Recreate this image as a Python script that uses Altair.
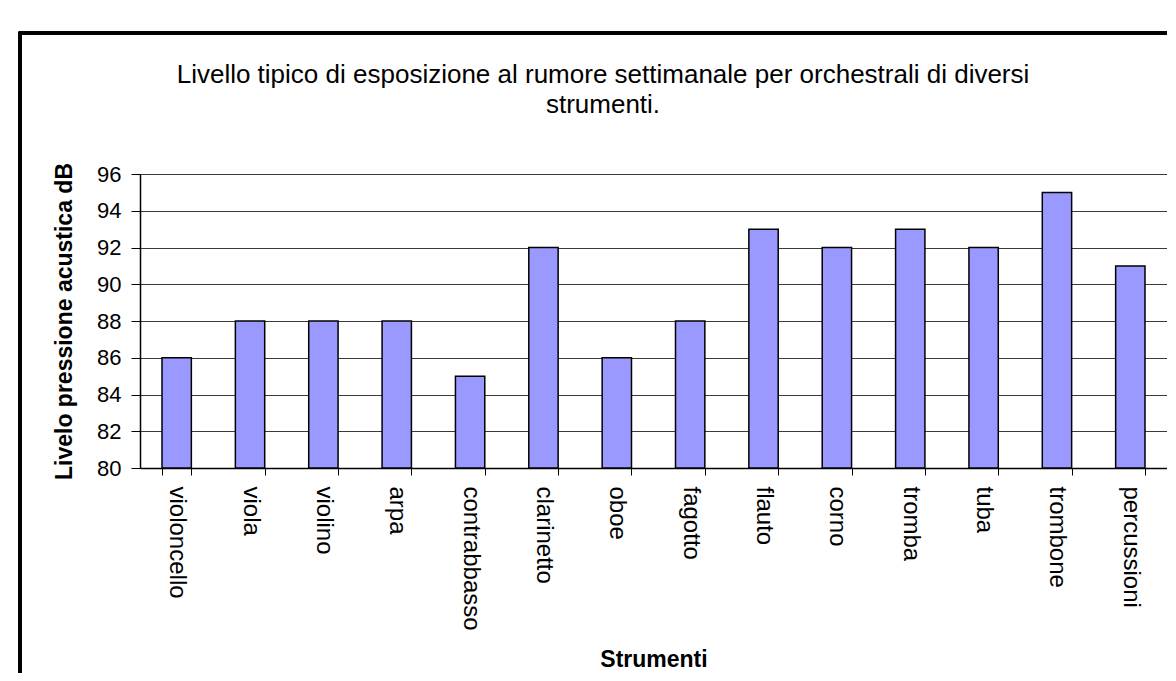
import altair as alt
import pandas as pd

strumenti = ["violoncello", "viola", "violino", "arpa", "contrabbasso", "clarinetto",
             "oboe", "fagotto", "flauto", "corno", "tromba", "tuba", "trombone", "percussioni"]
livello = [86, 88, 88, 88, 85, 92, 86, 88, 93, 92, 93, 92, 95, 91]
y_ticks = [80, 82, 84, 86, 88, 90, 92, 94, 96]
title_lines = ["Livello tipico di esposizione al rumore settimanale per orchestrali di diversi",
               "strumenti."]

df = pd.DataFrame({"strumento": strumenti, "livello": livello})

FONT = "Liberation Sans"

x_enc = alt.X(
    "strumento:N",
    sort=strumenti,
    scale=alt.Scale(paddingInner=0.6, paddingOuter=0.3),
    axis=alt.Axis(
        title="Strumenti",
        labelAngle=90,
        labelFontSize=24,
        labelPadding=11,
        labelColor="black",
        tickBand="extent",
        tickSize=7,
        tickColor="black",
        domainColor="black",
        domainWidth=1.5,
        titleFontSize=23,
        titleFontWeight="bold",
        titleColor="black",
        titlePadding=18,
        grid=False,
        labelFont=FONT,
        titleFont=FONT,
    ),
)

y_enc = alt.Y(
    "livello:Q",
    scale=alt.Scale(domain=[80, 96], zero=False, nice=False),
    axis=alt.Axis(
        title="Livelo pressione acustica dB",
        values=y_ticks,
        labelFontSize=22,
        labelPadding=10,
        labelColor="black",
        tickSize=9,
        tickColor="black",
        domainColor="black",
        domainWidth=1.5,
        grid=True,
        gridColor="#3a3a3a",
        gridWidth=1.2,
        titleFontSize=23,
        titleFontWeight="bold",
        titleColor="black",
        titlePadding=20,
        labelFont=FONT,
        titleFont=FONT,
    ),
)

bars = alt.Chart(df).mark_bar(
    color="#9999FF", stroke="black", strokeWidth=1.5
).encode(
    x=x_enc,
    y=y_enc,
    y2=alt.datum(80),
)

frame = alt.Chart(df).mark_rect(
    filled=False, stroke="black", strokeWidth=2.5, clip=False
).encode(
    x=alt.value(-120), x2=alt.value(1200), y=alt.value(-141), y2=alt.value(700)
)

title1 = alt.Chart(pd.DataFrame({"line": [title_lines[0]]})).mark_text(
    font=FONT, fontSize=26, color="black", align="center", baseline="alphabetic", clip=False
).encode(text="line:N", x=alt.value(463), y=alt.value(-91))
title2 = alt.Chart(pd.DataFrame({"line": [title_lines[1]]})).mark_text(
    font=FONT, fontSize=26, color="black", align="center", baseline="alphabetic", clip=False
).encode(text="line:N", x=alt.value(463), y=alt.value(-61))

chart = alt.layer(bars, frame, title1, title2).properties(
    width=1027,
    height=294,
    autosize=alt.AutoSizeParams(type="none"),
    padding={"left": 132, "top": 166, "right": 0, "bottom": 205},
).configure_view(
    fill="#C0C0C0", stroke="#808080", strokeWidth=1.5
).configure(background="white")

chart.save("out.html", embed_options={"renderer": "svg", "actions": False})
